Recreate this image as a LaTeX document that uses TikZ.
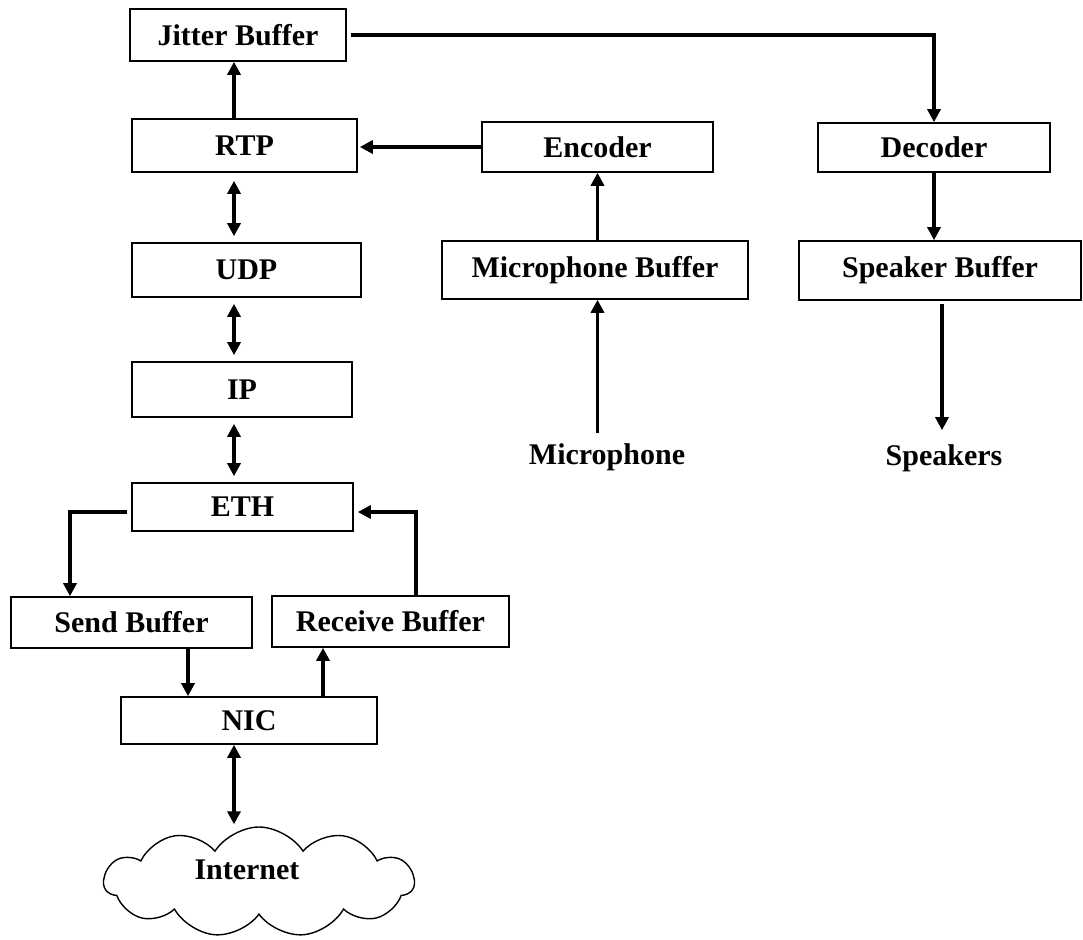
\documentclass[tikz,border=0pt]{standalone}
\usepackage{fontspec}
\setmainfont{Liberation Serif}
\usetikzlibrary{arrows.meta,shapes.symbols}
\begin{document}
\begin{tikzpicture}[x=1pt,y=-1pt,
  box/.style={draw,line width=1.6pt,rectangle,inner sep=0pt,
    font=\fontsize{30}{32}\selectfont\bfseries},
  lbl/.style={inner sep=0pt,font=\fontsize{30}{32}\selectfont\bfseries},
  tip/.style={-{Triangle[width=13pt,length=13pt]}},
  flow/.style={line width=3.5pt,tip},
  both/.style={line width=3.5pt,{Triangle[width=13pt,length=13pt]}-{Triangle[width=13pt,length=13pt]}}]
\fill[white] (0,0) rectangle (1083,939);
\useasboundingbox (0,0) rectangle (1083,939);

% protocol stack
\node[box,minimum width=216pt,minimum height=52pt] (jit)  at (238,35)    {Jitter Buffer};
\node[box,minimum width=225pt,minimum height=53pt] (rtp)  at (244.5,145.5) {RTP};
\node[box,minimum width=229pt,minimum height=54pt] (udp)  at (246.5,270) {UDP};
\node[box,minimum width=220pt,minimum height=55pt] (ip)   at (242,389.5) {IP};
\node[box,minimum width=221pt,minimum height=48pt] (eth)  at (242.5,507) {ETH};
\node[box,minimum width=241pt,minimum height=51pt] (send) at (131.5,622.5) {Send Buffer};
\node[box,minimum width=237pt,minimum height=51pt] (recv) at (390.5,621.5) {Receive Buffer};
\node[box,minimum width=256pt,minimum height=47pt] (nic)  at (249,720.5) {NIC};
\node[cloud,draw,line width=1.4pt,cloud puffs=11,cloud puff arc=115,aspect=2.8,
      minimum width=310pt,minimum height=110pt,inner sep=0pt] (inet) at (259,882) {};
\node[lbl] (inettxt) at (247,870) {Internet};

% audio path
\node[box,minimum width=231pt,minimum height=50pt] (enc)  at (597.5,147) {Encoder};
\node[box,minimum width=232pt,minimum height=49pt] (dec)  at (934,147.5) {Decoder};
\node[box,minimum width=306pt,minimum height=58pt] (micb) at (595,270)   {Microphone Buffer};
\node[box,minimum width=282pt,minimum height=59pt] (spk)  at (940,270.5) {Speaker Buffer};
\node[lbl] (mic) at (607,457) {Microphone};
\node[lbl] (spkr) at (944,458) {Speakers};

% connector columns
\coordinate (c1) at (234,0);
\coordinate (c2) at (70,0);
\coordinate (c3) at (416,0);
\coordinate (c4) at (188,0);
\coordinate (c5) at (323,0);
\coordinate (c6) at (942,0);

% stack connectors
\draw[flow] (rtp.north -| c1) -- (jit.south -| c1);
\draw[both,shorten <=8pt,shorten >=6pt] (rtp.south -| c1) -- (udp.north -| c1);
\draw[both,shorten <=6pt,shorten >=6pt] (udp.south -| c1) -- (ip.north -| c1);
\draw[both,shorten <=6pt,shorten >=6pt] (ip.south -| c1) -- (eth.north -| c1);
\draw[flow,line cap=butt] ([xshift=-4pt,yshift=-5pt]eth.west) -| (send.north -| c2);
\draw[flow] (recv.north -| c3) |- ([xshift=4pt,yshift=-5pt]eth.east);
\draw[flow] (send.south -| c4) -- (nic.north -| c4);
\draw[flow] (nic.north -| c5) -- (recv.south -| c5);
\draw[both,shorten >=2pt] (nic.south -| c1) -- (inet.north -| c1);

% audio connectors
\draw[flow] ([xshift=4pt]jit.east) -| (dec.north);
\draw[flow] (enc.west) -- ([xshift=2pt]enc.west -| rtp.east);
\draw[flow] (micb.north -| enc.south) -- (enc.south);
\draw[flow] ([yshift=10pt]mic.north -| enc.south) -- (micb.south -| enc.south);
\draw[flow] (dec.south) -- (spk.north -| dec.south);
\draw[flow,shorten <=3pt,shorten >=14pt] (spk.south -| c6) -- (spkr.north -| c6);
\end{tikzpicture}
\end{document}
